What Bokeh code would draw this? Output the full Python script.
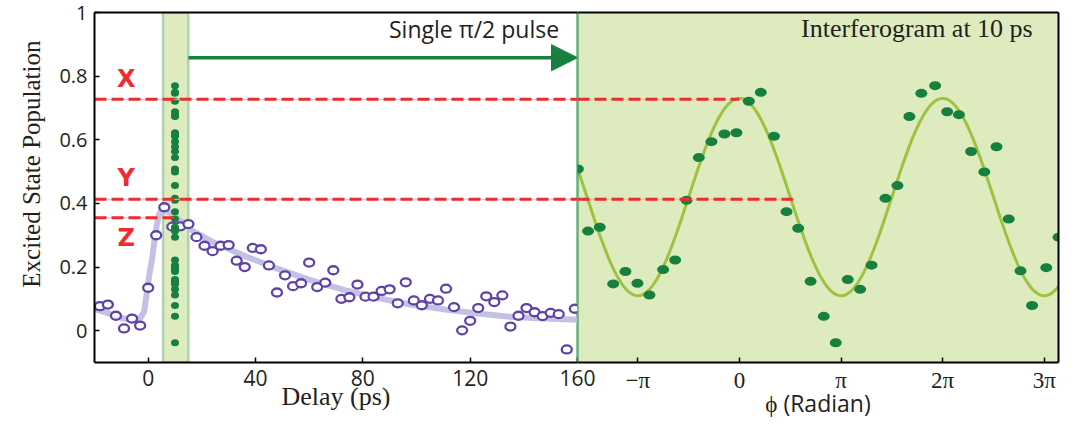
import numpy as np
from bokeh.plotting import figure
from bokeh.layouts import row
from bokeh.models import (Range1d, LinearAxis, FixedTicker, NumeralTickFormatter, Span,
                          BoxAnnotation, Arrow, NormalHead, Label, Legend, LegendItem, Title)
from bokeh.embed import file_html
from bokeh.resources import INLINE

# --- single pi/2 pulse: excited-state population vs delay ---
delay_ps = [-18, -15, -12, -9, -6, -3, 0, 3, 6, 9, 12, 15, 18, 21, 24, 27, 30, 33, 36, 39,
            42, 45, 48, 51, 54, 57, 60, 63, 66, 69, 72, 75, 78, 81, 84, 87, 90, 93, 96, 99,
            102, 105, 108, 111, 114, 117, 120, 123, 126, 129, 132, 135, 138, 141, 144, 147,
            150, 153, 156, 159]
single_pulse_pop = [0.077, 0.082, 0.047, 0.007, 0.038, 0.016, 0.135, 0.300, 0.388, 0.327,
                    0.328, 0.335, 0.294, 0.267, 0.250, 0.267, 0.269, 0.220, 0.200, 0.260,
                    0.256, 0.205, 0.120, 0.174, 0.140, 0.149, 0.214, 0.137, 0.151, 0.190,
                    0.100, 0.105, 0.145, 0.107, 0.107, 0.125, 0.130, 0.086, 0.152, 0.095,
                    0.080, 0.100, 0.095, 0.132, 0.074, 0.001, 0.031, 0.071, 0.108, 0.090,
                    0.111, 0.013, 0.047, 0.071, 0.058, 0.046, 0.056, 0.052, -0.059, 0.069]

# fitted population transient (rise and decay)
fit_delay_ps = [-20, -15, -10, -6, -3, -1.5, -0.5, 0.5, 1.5, 2.7, 4.0, 5.2, 7, 10.8, 15.8,
                24.5, 35.6, 48.1, 60.5, 72.9, 85.4, 97.8, 110.2, 122.6, 135, 147.4, 160]
fit_delay_pop = [0.068, 0.055, 0.040, 0.034, 0.038, 0.060, 0.120, 0.180, 0.226, 0.308,
                 0.365, 0.385, 0.377, 0.354, 0.318, 0.277, 0.236, 0.195, 0.159, 0.128,
                 0.103, 0.082, 0.067, 0.054, 0.044, 0.038, 0.034]

# --- interferogram taken at a fixed delay (phase in units of pi) ---
interferogram_delay_ps = 10
phase_pi = [-1.59, -1.49, -1.375, -1.243, -1.122, -1.004, -0.886, -0.751, -0.633, -0.52,
            -0.40, -0.276, -0.148, -0.03, 0.092, 0.21, 0.34, 0.463, 0.578, 0.70, 0.83,
            0.948, 1.066, 1.188, 1.30, 1.437, 1.555, 1.673, 1.79, 1.926, 2.044, 2.16, 2.28,
            2.41, 2.53, 2.65, 2.766, 2.88, 3.02, 3.14]
interferogram_pop = [0.508, 0.313, 0.325, 0.147, 0.186, 0.149, 0.112, 0.192, 0.222, 0.410,
                     0.544, 0.594, 0.618, 0.622, 0.721, 0.749, 0.611, 0.374, 0.322, 0.155,
                     0.045, -0.038, 0.161, 0.130, 0.206, 0.416, 0.456, 0.673, 0.746, 0.770,
                     0.688, 0.679, 0.563, 0.499, 0.578, 0.351, 0.188, 0.079, 0.198, 0.294]

# cosine fit of the interferogram
cos_offset = 0.42
cos_amplitude = 0.31

# marked population levels
level_x = 0.727          # fringe maximum
level_x_phase = 0.0
level_y = 0.413
level_y_phase = 0.528
level_z = 0.355          # single-pulse population at the interferogram delay
level_z_delay = 9.5

pop_ticks = [0, 0.2, 0.4, 0.6, 0.8, 1]
delay_ticks = [0, 40, 80, 120, 160]
phase_ticks = [-1, 0, 1, 2, 3]
phase_tick_labels = ["\u2212\u03c0", "0", "\u03c0", "2\u03c0", "3\u03c0"]

# --- styling ---
SERIF = "Liberation Serif"
SANS = "Open Sans"
INK = "#231F20"
PURPLE = "#5E43A8"
LAVENDER = "#C4C2E4"
GREEN = "#17803F"
EDGE_GREEN = "#1E8C47"
PALE_GREEN = "#DEEBBE"
FIT_GREEN = "#9BC33E"
RED = "#EE2B2F"
PINK = "#F7B3B3"

delay_lo, delay_hi = -20, 160
phase_lo, phase_hi = -1.594, 3.14
overhang = 20            # room for the last delay tick label under the phase panel
top_border = 12

pop_range = Range1d(-0.1, 1.0)


def style_axis(ax, font, size, standoff):
    ax.axis_line_color = "black"
    ax.axis_line_width = 2
    ax.major_tick_in = 5
    ax.major_tick_out = 0
    ax.major_tick_line_width = 1.5
    ax.major_tick_line_color = "black"
    ax.minor_tick_line_color = None
    ax.major_label_text_font = font
    ax.major_label_text_font_size = size
    ax.major_label_text_color = INK
    ax.major_label_standoff = standoff


def frame_edge():
    """Bare axis line used as a plain frame edge."""
    return LinearAxis(ticker=FixedTicker(ticks=[]), axis_line_color="black",
                      axis_line_width=2, major_tick_line_color=None,
                      minor_tick_line_color=None)


# ================= left panel: population vs delay =================
left = figure(width=94 + 483 + overhang, height=427, output_backend="svg",
              toolbar_location=None, x_range=Range1d(delay_lo, delay_hi), y_range=pop_range,
              min_border_left=94, min_border_right=overhang, min_border_top=top_border,
              min_border_bottom=65)
left.outline_line_color = None
left.xgrid.visible = False
left.ygrid.visible = False
left.border_fill_color = "white"

ya = left.left[0]
ya.ticker = FixedTicker(ticks=pop_ticks)
ya.formatter = NumeralTickFormatter(format="0.[0]")
style_axis(ya, SANS, "20px", 7)
xa = left.below[0]
xa.ticker = FixedTicker(ticks=delay_ticks)
style_axis(xa, SANS, "21px", 7)
xa.axis_label = "Delay (ps)"
xa.axis_label_text_font = SERIF
xa.axis_label_text_font_size = "26px"
xa.axis_label_text_font_style = "normal"
xa.axis_label_text_color = INK
xa.axis_label_standoff = -7
left.add_layout(frame_edge(), "above")

left.add_layout(Title(text="Excited State Population", align="right", offset=28,
                      vertical_align="top", standoff=20, text_font=SERIF,
                      text_font_size="25px", text_font_style="normal", text_color=INK),
                "left")

# interferogram delay window
left.add_layout(BoxAnnotation(left=5.5, right=15, fill_color=PALE_GREEN, fill_alpha=1,
                              line_color=EDGE_GREEN, line_width=2.5, level="underlay"))
left.add_layout(Span(location=delay_hi, dimension="height", line_color=EDGE_GREEN,
                     line_width=2, level="underlay"))

left.line(fit_delay_ps, fit_delay_pop, line_color=LAVENDER, line_width=6,
          line_join="round", line_cap="round")
left.ellipse(x=delay_ps, y=single_pulse_pop, width=10, height=8, width_units="screen",
             height_units="screen", fill_color="white", line_color=PURPLE, line_width=2.3)
left.ellipse(x=[interferogram_delay_ps] * len(interferogram_pop), y=interferogram_pop,
             width=8, height=7, width_units="screen", height_units="screen",
             fill_color=GREEN, line_color=None)

lx0 = [delay_lo, delay_lo, delay_lo]
lx1 = [delay_hi, delay_hi, level_z_delay]
ly = [level_x, level_y, level_z]
for color, width, dash in ((PINK, 1, "solid"), (RED, 3, "12 5")):
    left.segment(x0=lx0, x1=lx1, y0=ly, y1=ly, line_color=color, line_width=width,
                 line_dash=dash)

for txt, yy in (("X", 0.792), ("Y", 0.481), ("Z", 0.291)):
    left.add_layout(Label(x=-8.2, y=yy, text=txt, text_align="center",
                          text_baseline="middle", text_color=RED, text_font="DejaVu Sans",
                          text_font_style="bold", text_font_size="24px"))

left.add_layout(Arrow(end=NormalHead(size=26, fill_color=GREEN, line_color=GREEN),
                      x_start=15, y_start=0.858, x_end=delay_hi, y_end=0.858,
                      line_color=GREEN, line_width=3.5))

pulse_key = left.scatter([], [], marker="circle", size=15, fill_color=None,
                         line_color=PURPLE, line_width=2)
left.add_layout(Legend(items=[LegendItem(label="Single \u03c0/2 pulse", renderers=[pulse_key])],
                       location=(255, 314), glyph_width=38, glyph_height=38,
                       label_standoff=2, padding=0, margin=0, border_line_color=None,
                       background_fill_alpha=0, label_text_font=SANS,
                       label_text_font_size="23px", label_text_color=INK))

# ================= right panel: interferogram vs phase =================
right = figure(width=481 + 20, height=427, output_backend="svg", toolbar_location=None,
               x_range=Range1d(phase_lo, phase_hi), y_range=pop_range, y_axis_location=None,
               min_border_left=0, min_border_right=20, min_border_top=top_border,
               min_border_bottom=65, margin=(0, 0, 0, -overhang))
right.outline_line_color = None
right.xgrid.visible = False
right.ygrid.visible = False
right.background_fill_color = PALE_GREEN
right.border_fill_alpha = 0

pa = right.below[0]
pa.ticker = FixedTicker(ticks=phase_ticks)
pa.major_label_overrides = dict(zip(phase_ticks, phase_tick_labels))
style_axis(pa, SERIF, "23px", 5)
pa.axis_label = "\u03d5 (Radian)"
pa.axis_label_text_font = SANS
pa.axis_label_text_font_size = "23px"
pa.axis_label_text_font_style = "normal"
pa.axis_label_text_color = INK
pa.axis_label_standoff = -9
right.add_layout(frame_edge(), "above")
right.add_layout(frame_edge(), "right")

right.add_layout(Span(location=phase_lo, dimension="height", line_color=EDGE_GREEN,
                      line_width=2))

phase_grid = np.linspace(phase_lo, phase_hi, 600)
right.line(phase_grid, cos_offset + cos_amplitude * np.cos(np.pi * phase_grid),
           line_color=FIT_GREEN, line_width=3)
right.ellipse(x=phase_pi, y=interferogram_pop, width=12, height=9, width_units="screen",
              height_units="screen", fill_color=GREEN, line_color=None)

rx0 = [phase_lo, phase_lo]
rx1 = [level_x_phase, level_y_phase]
ry = [level_x, level_y]
for color, width, dash in ((PINK, 1, "solid"), (RED, 3, "12 5")):
    right.segment(x0=rx0, x1=rx1, y0=ry, y1=ry, line_color=color, line_width=width,
                  line_dash=dash)

interf_key = right.scatter([], [], marker="circle", size=16, fill_color=GREEN,
                           line_color=None)
right.add_layout(Legend(items=[LegendItem(label="Interferogram at 10 ps",
                                          renderers=[interf_key])],
                        location=(182, 313), glyph_width=40, glyph_height=40,
                        label_standoff=2, padding=0, margin=0, border_line_color=None,
                        background_fill_alpha=0, label_text_font=SERIF,
                        label_text_font_size="26px", label_text_color=INK))

layout = row(left, right, spacing=0)
open("out.html", "w").write(file_html(layout, INLINE))
